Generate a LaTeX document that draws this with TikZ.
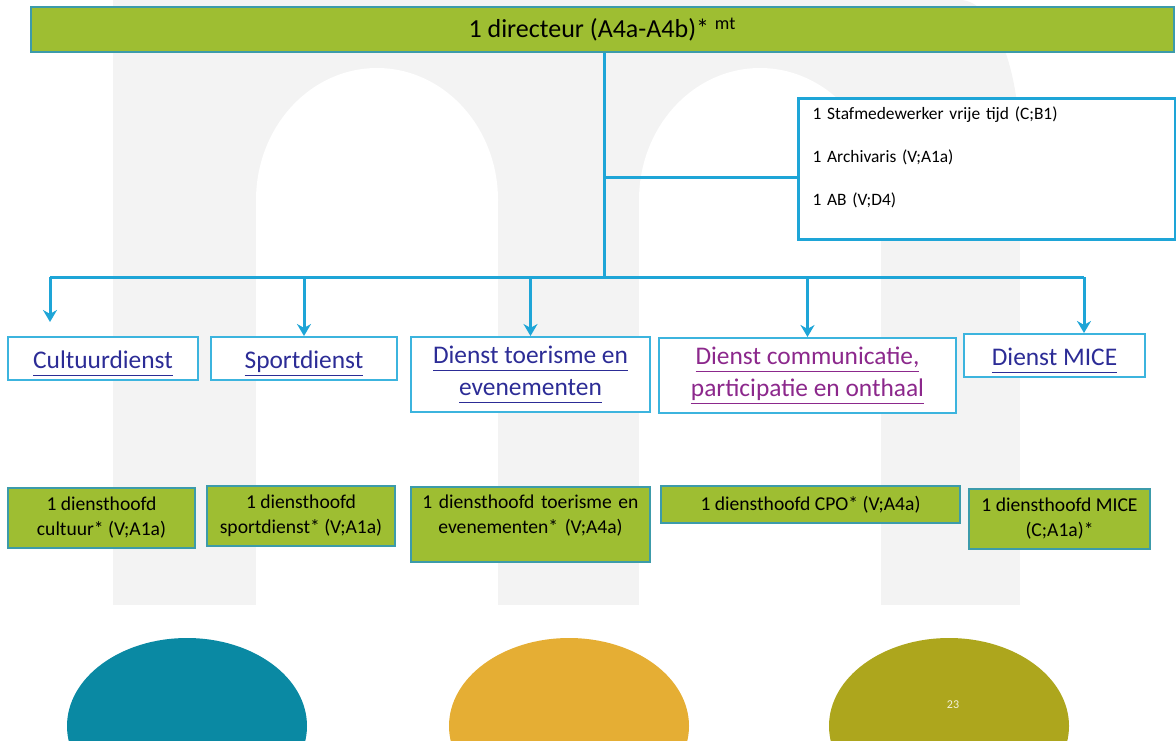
\documentclass[tikz,border=0pt]{standalone}
\usepackage{fontspec}
\setmainfont{Carlito}
\usetikzlibrary{arrows.meta}
\definecolor{orgline}{RGB}{30,165,215}
\definecolor{orggreen}{RGB}{158,190,50}
\definecolor{orgrim}{RGB}{60,155,170}
\definecolor{orgframe}{RGB}{60,180,222}
\definecolor{orglink}{RGB}{44,44,150}
\definecolor{orgpurple}{RGB}{140,40,140}
\definecolor{orgbg}{RGB}{243,243,243}
\definecolor{orgteal}{RGB}{10,137,163}
\definecolor{orggold}{RGB}{229,174,52}
\definecolor{orgolive}{RGB}{173,166,29}
\newcommand{\lnk}[1]{\underline{#1\vphantom{p}}}

\begin{document}
\begin{tikzpicture}[x=.5pt,y=-.5pt,>={Stealth[length=6pt,width=7pt]},
    lead/.style={draw=orgrim,fill=orggreen,line width=1pt,inner sep=0pt,align=center,
      font=\fontsize{9.8}{12.5}\selectfont},
    dienst/.style={draw=orgframe,fill=white,line width=1pt,inner sep=0pt,align=center,
      text=orglink,font=\fontsize{12.7}{16}\selectfont,
      execute at begin node={\rule{0pt}{14.5pt}}},
    link/.style={draw=orgline,line width=1.5pt}]
  \useasboundingbox (0,0) rectangle (1176,740);

  \fill[orgbg] (113,0) rectangle (960,605);
  \fill[orgbg] (880,150) rectangle (1020,605);
  \fill[orgbg] (960,150) ellipse [x radius=60,y radius=150];
  \foreach \cx in {377,760} {
    \fill[white] (\cx-121,200) rectangle (\cx+121,606);
    \fill[white] (\cx,200) ellipse [x radius=121,y radius=132];
  }
  \foreach \cx/\col in {187/orgteal,569/orggold,949/orgolive} {
    \fill[\col] (\cx,726) ellipse [x radius=120,y radius=88];
  }
  \node[text=white!85!orgolive,font=\fontsize{6}{7}\selectfont] (page) at (953,705) {23};

  \node[lead,minimum width=571.5pt,minimum height=22.5pt,font=\fontsize{13}{15}\selectfont]
    (dir) at (602.5,29.5) {1 directeur (A4a-A4b)* \textsuperscript{mt}};
  \node[draw=orgline,line width=1.5pt,fill=white,anchor=north west,inner xsep=7pt,inner ysep=0pt,
    text width=174.5pt,text height=10.5pt,text depth=60pt,font=\fontsize{8.7}{21.5}\selectfont]
    (staf) at (797,97) {1 Stafmedewerker vrije tijd (C;B1)\\1 Archivaris (V;A1a)\\1 AB (V;D4)};

  \node[dienst,minimum width=95pt,minimum height=21.5pt] (cult) at (103,358.5) {\lnk{Cultuurdienst}};
  \node[dienst,minimum width=93pt,minimum height=21.5pt] (sport) at (304,358.5) {\lnk{Sportdienst}};
  \node[dienst,minimum width=119.5pt,minimum height=37.5pt] (toer) at (530.5,374.5)
    {\lnk{Dienst toerisme en}\\\lnk{evenementen}};
  \node[dienst,text=orgpurple,minimum width=148.5pt,minimum height=37.5pt] (comm) at (807.5,375.5)
    {\lnk{Dienst communicatie,}\\\lnk{participatie en onthaal}};
  \node[dienst,minimum width=90.5pt,minimum height=21.5pt] (mice) at (1054.5,355.5) {\lnk{Dienst MICE}};

  \node[lead,minimum width=93.5pt,minimum height=30pt] (hcult) at (101.5,518)
    {1 diensthoofd\\cultuur* (V;A1a)};
  \node[lead,minimum width=94pt,minimum height=30pt] (hsport) at (301,516)
    {1 diensthoofd\\sportdienst* (V;A1a)};
  \node[lead,anchor=north,text width=119.5pt,text height=10.5pt,text depth=27pt] (htoer) at (530.5,486)
    {1 diensthoofd toerisme en\\evenementen* (V;A4a)};
  \node[lead,minimum width=149.5pt,minimum height=18.5pt] (hcpo) at (810.5,504.5)
    {1 diensthoofd CPO* (V;A4a)};
  \node[lead,minimum width=90.5pt,minimum height=30pt] (hmice) at (1059.5,519)
    {1 diensthoofd MICE\\(C;A1a)*};

  \coordinate (hub) at (604,277);
  \coordinate (stafjoin) at (604,177);
  \foreach \n/\x in {cult/50,sport/304,toer/530.5,comm/807.5,mice/1084} {
    \coordinate (b\n) at (\x,277);
  }
  \draw[link] (dir.south -| hub) -- (hub);
  \draw[link] (stafjoin) -- (staf.west |- stafjoin);
  \draw[link] (bcult) -- (bmice);
  \draw[link,->,shorten >=7pt] (bcult) -- (bcult |- cult.north);
  \foreach \n in {sport,toer,comm,mice} {
    \draw[link,->] (b\n) -- (b\n |- \n.north);
  }
\end{tikzpicture}
\end{document}
